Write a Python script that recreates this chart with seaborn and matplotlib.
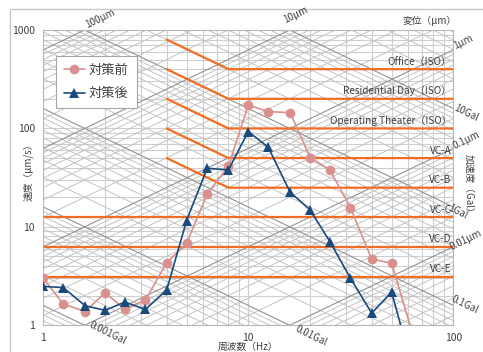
import numpy as np
import pandas as pd
import matplotlib
matplotlib.use("Agg")
import matplotlib.pyplot as plt
import seaborn as sns
from matplotlib.patches import Rectangle

# 1/3-octave band centre frequencies and measured velocity (μm/s)
freq_hz = [1, 1.25, 1.6, 2, 2.5, 3.15, 4, 5, 6.3, 8, 10, 12.5, 16, 20, 25, 31.5, 40, 50, 63]
before_um_s = [3.0, 1.65, 1.38, 2.14, 1.46, 1.81, 4.34, 6.8, 21.5, 41.5,
               173, 148, 145, 50.6, 37.9, 15.7, 4.7, 4.28, 0.85]
after_um_s = [2.48, 2.42, 1.58, 1.42, 1.72, 1.45, 2.29, 11.6, 39.4, 37.9,
              93, 64.5, 22.5, 14.9, 7.1, 3.0, 1.33, 2.17, 0.38]
series_names = ["対策前", "対策後"]

# vibration criteria (flat velocity level and start frequency of the curve)
criteria_names = ["Office（ISO）", "Residential Day（ISO）", "Operating Theater（ISO）",
                  "VC-A", "VC-B", "VC-C", "VC-D", "VC-E"]
criteria_um_s = [400, 200, 100, 50, 25, 12.5, 6.25, 3.12]
criteria_start_hz = [4, 4, 4, 4, 4, 1, 1, 1]
knee_hz = 8

# tripartite grid labels
disp_labels = ["100μm", "10μm", "1μm", "0.1μm", "0.01μm"]
accel_labels = ["0.001Gal", "0.01Gal", "0.1Gal", "1Gal", "10Gal"]

sns.set_theme(style="white")
plt.rcParams["font.family"] = ["Noto Sans CJK JP", "DejaVu Sans"]

W, H = 483, 352
fig = plt.figure(figsize=(W / 100, H / 100), dpi=100)
ax = fig.add_axes([43.3 / W, 1 - 325.3 / H, 410 / W, 295.3 / H])
ax.set_xscale("log")
ax.set_yscale("log")
ax.set_xlim(1, 100)
ax.set_ylim(1, 1000)


def px(x, y):
    return x / W, 1 - y / H


grid_c = "#cfcfcf"
# vertical and horizontal grid lines
for dec in [1, 10]:
    for m in range(1, 11):
        ax.axvline(dec * m, color=grid_c, lw=0.8, zorder=1)
for dec in [1, 10, 100]:
    for m in range(1, 10):
        ax.axhline(dec * m, color=grid_c, lw=0.8, zorder=1)

# diagonal lines: constant displacement (v = 2πfd) and constant acceleration (v = a/2πf)
f_end = np.array([1.0, 100.0])
for e in range(-4, 3):
    for m in range(1, 10):
        d = m * 10.0 ** e  # μm
        major = m == 1
        ax.plot(f_end, 2 * np.pi * f_end * d, color="#929292" if major else "#c4c4c4",
                lw=0.8 if major else 0.7, zorder=1.2 if major else 1.1)
for e in range(-5, 2):
    for m in range(1, 10):
        a = m * 10.0 ** e  # Gal
        major = m == 1
        ax.plot(f_end, a * 1e4 / (2 * np.pi * f_end), color="#929292" if major else "#c4c4c4",
                lw=0.8 if major else 0.7, zorder=1.2 if major else 1.1)

# criteria curves
orange = "#f26d21"
for name, v, f0 in zip(criteria_names, criteria_um_s, criteria_start_hz):
    if f0 < knee_hz and f0 > 1:
        xs = [f0, knee_hz, 100]
        ys = [v * knee_hz / f0, v, v]
    else:
        xs = [f0, 100]
        ys = [v, v]
    ax.plot(xs, ys, color=orange, lw=1.6, zorder=2)
    ax.text(98, v * 1.06, name, ha="right", va="bottom", fontsize=7.2,
            color="#404040", zorder=3)

# measured spectra
df = pd.DataFrame({
    "freq": freq_hz * 2,
    "vel": before_um_s + after_um_s,
    "series": [series_names[0]] * len(freq_hz) + [series_names[1]] * len(freq_hz),
})
sns.lineplot(data=df, x="freq", y="vel", hue="series", style="series",
             markers={"対策前": "o", "対策後": "^"}, dashes=False,
             palette={"対策前": "#d9908f", "対策後": "#1a4a7c"},
             markersize=7, markeredgewidth=0, linewidth=1.2, ax=ax, zorder=4)

ax.set_xticks([1, 10, 100])
ax.set_xticklabels(["1", "10", "100"])
ax.set_yticks([1, 10, 100, 1000])
ax.set_yticklabels(["1", "10", "100", "1000"])
ax.minorticks_off()
ax.tick_params(axis="both", which="major", length=4, width=0.8, color="#a0a0a0",
               labelsize=7.5, labelcolor="#404040", pad=2, direction="out")
ax.tick_params(axis="x", pad=1.5)
for s in ax.spines.values():
    s.set_color("#b8b8b8")
    s.set_linewidth(0.8)
ax.set_xlabel("")
ax.set_ylabel("")

leg = ax.legend(loc="upper left", bbox_to_anchor=(0.031, 0.912), borderaxespad=0,
                fontsize=9.5, frameon=True, fancybox=False, edgecolor="#a6a6a6",
                framealpha=1, borderpad=0.6, labelspacing=0.8, handlelength=1.6,
                handletextpad=0.3)
leg.get_frame().set_linewidth(0.8)
for t in leg.get_texts():
    t.set_color("#404040")

tc = "#404040"
fig.text(*px(248, 347), "周波数（Hz）", ha="center", va="center", fontsize=7, color=tc)
fig.text(*px(28, 170), "速度（μm/s）", ha="center", va="center", fontsize=7, color=tc,
         rotation=90)
fig.text(*px(469, 186), "加速度（Gal）", ha="center", va="center", fontsize=7, color=tc,
         rotation=-90)
fig.text(*px(430, 21), "変位（μm）", ha="center", va="center", fontsize=7, color=tc)

ang = 26
disp_pos = [(100, 19), (296, 15), (463, 42), (466, 140), (466, 240)]
for lab, (x, y) in zip(disp_labels, disp_pos):
    fig.text(*px(x, y), lab, ha="center", va="center", fontsize=7, color=tc, rotation=ang)
accel_pos = [(108, 333), (311, 336), (465, 305), (458, 212), (466, 113)]
for lab, (x, y) in zip(accel_labels, accel_pos):
    fig.text(*px(x, y), lab, ha="center", va="center", fontsize=7, color=tc, rotation=-ang)

fig.patches.append(Rectangle(px(10, 400), 1.0, (400 - 9) / H, transform=fig.transFigure,
                             fill=False, edgecolor="#c8c8c8", lw=1.0))

fig.savefig("out.png", dpi=100)
